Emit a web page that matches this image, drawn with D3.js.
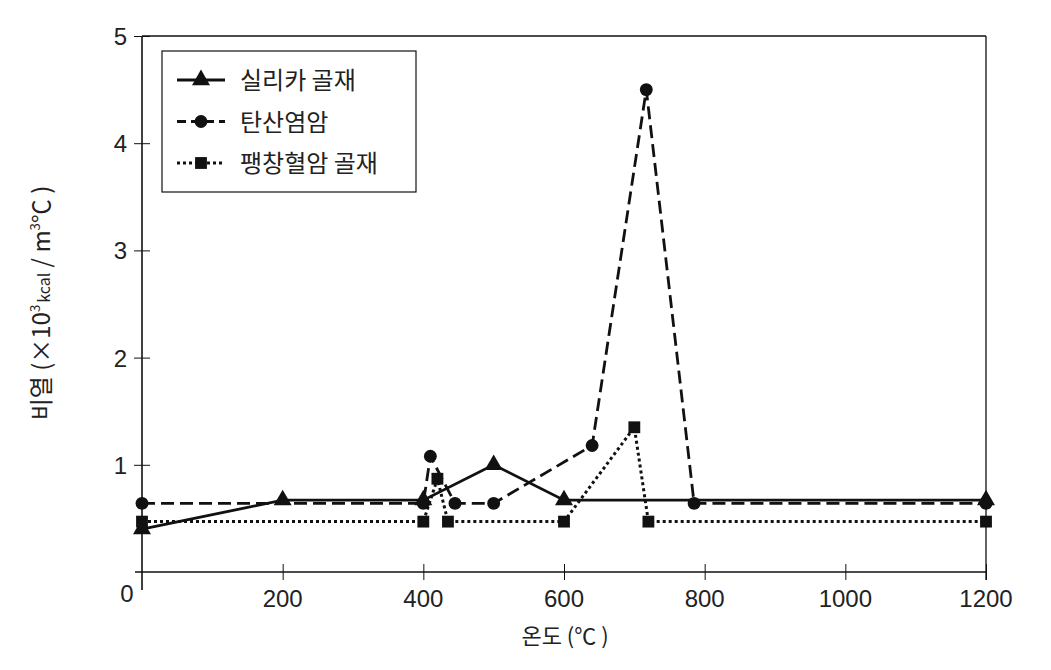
<!DOCTYPE html>
<html><head><meta charset="utf-8">
<script src="https://cdn.jsdelivr.net/npm/d3@7"></script>
<style>
html,body{margin:0;padding:0;background:#fff;}
text{fill:#222;}
</style></head>
<body><svg id="c" width="1051" height="670"></svg>
<script>
const seriesNames = ["실리카 골재", "탄산염암", "팽창혈암 골재"];
const silicaX = [0, 200, 400, 500, 600, 1200];
const silicaY = [0.40, 0.67, 0.67, 1.00, 0.67, 0.67];
const carbX = [0, 400, 410, 445, 500, 640, 717, 785, 1200];
const carbY = [0.64, 0.64, 1.08, 0.64, 0.64, 1.18, 4.50, 0.64, 0.64];
const shaleX = [0, 400, 420, 435, 600, 700, 720, 1200];
const shaleY = [0.47, 0.47, 0.87, 0.47, 0.47, 1.35, 0.47, 0.47];
const xTicks = [200, 400, 600, 800, 1000, 1200];
const yTicks = [1, 2, 3, 4, 5];
const xTitle = "온도 (℃ )";

const svg = d3.select("#c");
const L = 142, R = 986, T = 36, B = 572;
const x = d3.scaleLinear().domain([0, 1200]).range([L, R]);
const y = d3.scaleLinear().domain([0, 5]).range([B, T]);
const num = "'Liberation Sans', Arial, sans-serif";
const kr = "'Noto Sans CJK KR', 'Noto Sans', sans-serif";
const ink = "#111";

// frame
svg.append("line").attr("x1", L).attr("x2", R).attr("y1", T).attr("y2", T).attr("stroke", ink).attr("stroke-width", 1.3);
svg.append("line").attr("x1", R).attr("x2", R).attr("y1", T).attr("y2", B + 8).attr("stroke", ink).attr("stroke-width", 1.3);

// axes
const xAxis = svg.append("g").attr("transform", `translate(0,${B})`)
  .call(d3.axisBottom(x).tickValues(xTicks).tickSize(8).tickFormat(""));
xAxis.select(".domain").attr("d", `M${L-7},0H${R}`).attr("stroke", ink).attr("stroke-width", 1.3);
xAxis.selectAll(".tick line").attr("y1", -8).attr("y2", 8).attr("stroke", ink);
const yAxis = svg.append("g").attr("transform", `translate(${L},0)`)
  .call(d3.axisLeft(y).tickValues(yTicks).tickSize(8).tickFormat(""));
yAxis.select(".domain").attr("d", `M0,${T}V${B+18}`).attr("stroke", ink).attr("stroke-width", 1.6);
yAxis.selectAll(".tick line").attr("x1", -8).attr("x2", 8).attr("stroke", ink);

// tick labels
svg.append("g").selectAll("text").data(xTicks).join("text")
  .attr("x", d => x(d)).attr("y", B + 35).attr("text-anchor", "middle")
  .style("font-family", num).style("font-size", "24px").text(d => d);
svg.append("text").attr("x", L - 15).attr("y", B + 30).attr("text-anchor", "middle")
  .style("font-family", num).style("font-size", "24px").text("0");
svg.append("g").selectAll("text").data(yTicks).join("text")
  .attr("x", L - 15).attr("y", d => y(d) + 9).attr("text-anchor", "end")
  .style("font-family", num).style("font-size", "24px").text(d => d);

// axis titles
svg.append("text").attr("x", 565).attr("y", 644).attr("text-anchor", "middle")
  .style("font-family", kr).style("font-size", "22px").text(xTitle);
const yl = svg.append("text").attr("transform", "translate(50,303) rotate(-90)")
  .attr("text-anchor", "middle").style("font-family", kr).style("font-size", "24px");
yl.append("tspan").text("비열 (×10");
yl.append("tspan").attr("dy", -10).style("font-size", "13px").text("3");
yl.append("tspan").attr("dy", 10).style("font-size", "16px").attr("dx", 2).text("kcal");
yl.append("tspan").text(" / m");
yl.append("tspan").attr("dy", -10).style("font-size", "13px").text("3");
yl.append("tspan").attr("dy", 10).text("℃ )");

// series
const series = [
  {name: seriesNames[0], xs: silicaX, ys: silicaY, dash: null, sym: d3.symbolTriangle, size: 140},
  {name: seriesNames[1], xs: carbX, ys: carbY, dash: "13,6", sym: d3.symbolCircle, size: 130},
  {name: seriesNames[2], xs: shaleX, ys: shaleY, dash: "3,3", sym: d3.symbolSquare, size: 140}
];
const line = d3.line().x(d => x(d[0])).y(d => y(d[1]));
series.forEach(s => {
  const pts = s.xs.map((v, i) => [v, s.ys[i]]);
  svg.append("path").attr("d", line(pts)).attr("fill", "none").attr("stroke", ink)
    .attr("stroke-width", s.dash === "3,3" ? 3 : 2.8).attr("stroke-dasharray", s.dash);
  svg.append("g").selectAll("path").data(pts).join("path")
    .attr("transform", d => `translate(${x(d[0])},${y(d[1])})`)
    .attr("d", d3.symbol().type(s.sym).size(s.size)).attr("fill", ink);
});

// legend
svg.append("rect").attr("x", 162).attr("y", 51).attr("width", 254).attr("height", 141)
  .attr("fill", "#fff").attr("stroke", ink).attr("stroke-width", 1.2);
series.forEach((s, i) => {
  const cy = 80 + i * 41.5;
  svg.append("line").attr("x1", 177).attr("x2", 225).attr("y1", cy).attr("y2", cy)
    .attr("stroke", ink).attr("stroke-width", s.dash === "3,3" ? 3 : 2.8)
    .attr("stroke-dasharray", s.dash === "13,6" ? "9,5" : s.dash);
  svg.append("path").attr("transform", `translate(201,${cy})`)
    .attr("d", d3.symbol().type(s.sym).size(s.size)).attr("fill", ink);
  svg.append("text").attr("x", 240).attr("y", cy + 9).style("font-family", kr)
    .style("font-size", "24px").text(s.name);
});
</script></body></html>
